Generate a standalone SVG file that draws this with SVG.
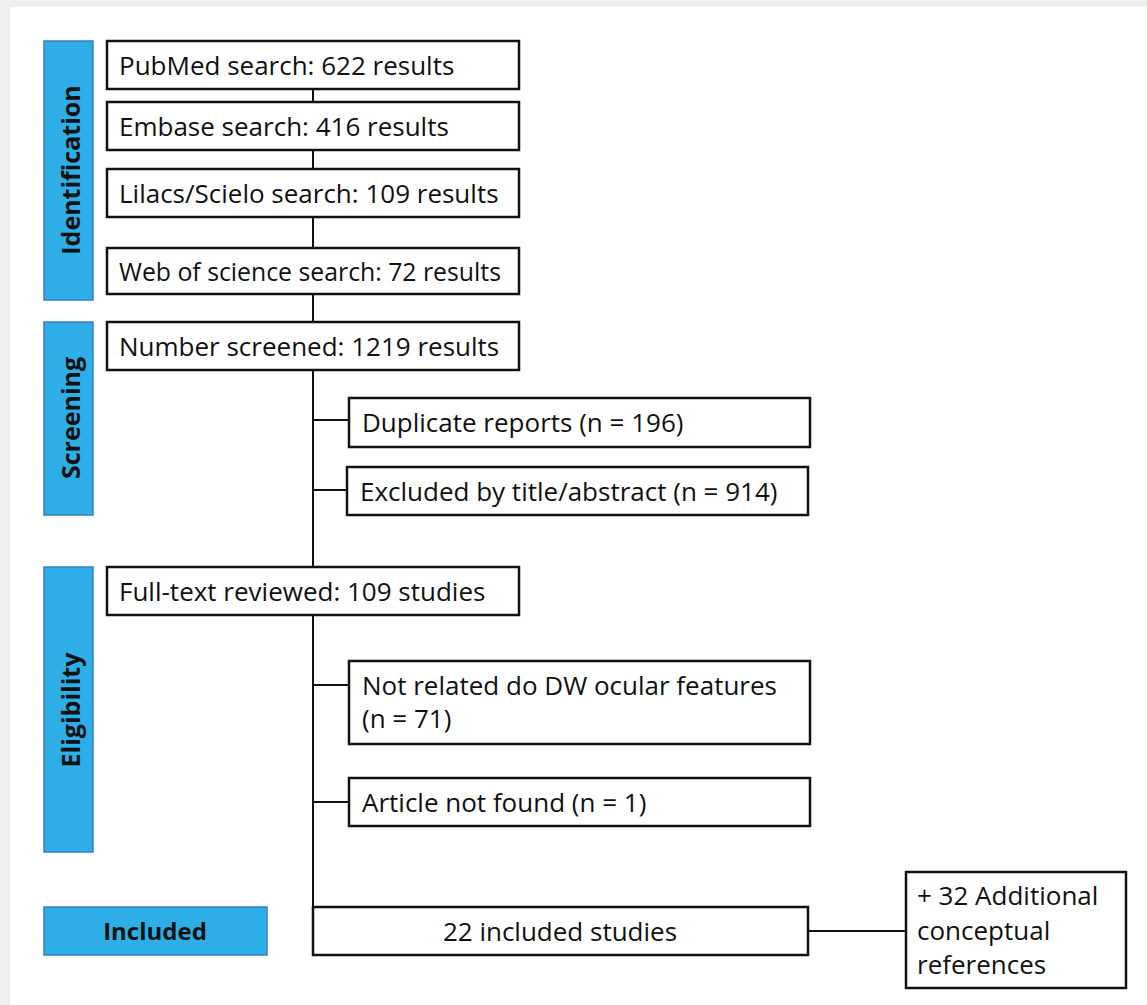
<svg xmlns="http://www.w3.org/2000/svg" width="1147" height="1005" viewBox="0 0 1147 1005">
<style>
.bg{fill:#efefef}
.page{fill:#ffffff}
.box{fill:#ffffff;stroke:#111;stroke-width:2.5}
.bar{fill:#2eaee6;stroke:#3a7cc0;stroke-width:1.5}
.t{font-family:"Open Sans","Noto Sans",sans-serif;font-size:26px;fill:#111}
.lbl{font-family:"Open Sans","Noto Sans",sans-serif;font-size:25px;font-weight:bold;fill:#111;text-anchor:middle}
.c{fill:none;stroke:#111;stroke-width:2}
</style>
<rect class="bg" x="0" y="0" width="1147" height="1005"/>
<rect class="page" x="10" y="7" width="1137" height="998"/>

<g id="connectors">
<line class="c" x1="313" y1="89" x2="313" y2="102"/>
<line class="c" x1="313" y1="150" x2="313" y2="169"/>
<line class="c" x1="313" y1="217" x2="313" y2="248"/>
<line class="c" x1="313" y1="294" x2="313" y2="322"/>
<line class="c" x1="313" y1="370" x2="313" y2="567"/>
<line class="c" x1="313" y1="420" x2="349" y2="420"/>
<line class="c" x1="313" y1="490" x2="347" y2="490"/>
<line class="c" x1="313" y1="615" x2="313" y2="907"/>
<line class="c" x1="313" y1="685" x2="349" y2="685"/>
<line class="c" x1="313" y1="802" x2="349" y2="802"/>
<line class="c" x1="808" y1="931" x2="906" y2="931"/>
</g>

<g id="stage-identification">
<rect class="bar" x="44" y="41" width="49" height="259"/>
<text class="lbl" transform="translate(80,170) rotate(-90)">Identification</text>
</g>
<g id="stage-screening">
<rect class="bar" x="44" y="322" width="49" height="193"/>
<text class="lbl" transform="translate(80,418) rotate(-90)">Screening</text>
</g>
<g id="stage-eligibility">
<rect class="bar" x="44" y="567" width="49" height="285"/>
<text class="lbl" transform="translate(80,710) rotate(-90)">Eligibility</text>
</g>
<g id="stage-included">
<rect class="bar" x="44" y="907" width="223" height="48"/>
<text class="lbl" x="155" y="940" style="font-size:24px">Included</text>
</g>

<g id="pubmed">
<rect class="box" x="107" y="41" width="412" height="48"/>
<text class="t" x="119" y="75">PubMed search: 622 results</text>
</g>
<g id="embase">
<rect class="box" x="107" y="102" width="412" height="48"/>
<text class="t" x="119" y="136">Embase search: 416 results</text>
</g>
<g id="lilacs">
<rect class="box" x="107" y="169" width="412" height="48"/>
<text class="t" x="119" y="203">Lilacs/Scielo search: 109 results</text>
</g>
<g id="wos">
<rect class="box" x="107" y="248" width="412" height="46"/>
<text class="t" x="119" y="281" textLength="382" lengthAdjust="spacingAndGlyphs">Web of science search: 72 results</text>
</g>
<g id="screened">
<rect class="box" x="107" y="322" width="412" height="48"/>
<text class="t" x="119" y="356">Number screened: 1219 results</text>
</g>
<g id="duplicates">
<rect class="box" x="349" y="398" width="461" height="49"/>
<text class="t" x="362" y="432">Duplicate reports (n = 196)</text>
</g>
<g id="excluded-title">
<rect class="box" x="347" y="467" width="461" height="48"/>
<text class="t" x="360" y="501">Excluded by title/abstract (n = 914)</text>
</g>
<g id="fulltext">
<rect class="box" x="107" y="567" width="412" height="48"/>
<text class="t" x="119" y="601">Full-text reviewed: 109 studies</text>
</g>
<g id="not-related">
<rect class="box" x="349" y="661" width="461" height="83"/>
<text class="t" x="362" y="695">Not related do DW ocular features</text>
<text class="t" x="362" y="728">(n = 71)</text>
</g>
<g id="not-found">
<rect class="box" x="349" y="778" width="461" height="48"/>
<text class="t" x="362" y="812">Article not found (n = 1)</text>
</g>
<g id="included-studies">
<rect class="box" x="313" y="907" width="495" height="48"/>
<text class="t" x="560" y="941" text-anchor="middle">22 included studies</text>
</g>
<g id="additional">
<rect class="box" x="906" y="872" width="220" height="116"/>
<text class="t" x="917" y="905">+ 32 Additional</text>
<text class="t" x="917" y="940">conceptual</text>
<text class="t" x="917" y="974">references</text>
</g>
</svg>
